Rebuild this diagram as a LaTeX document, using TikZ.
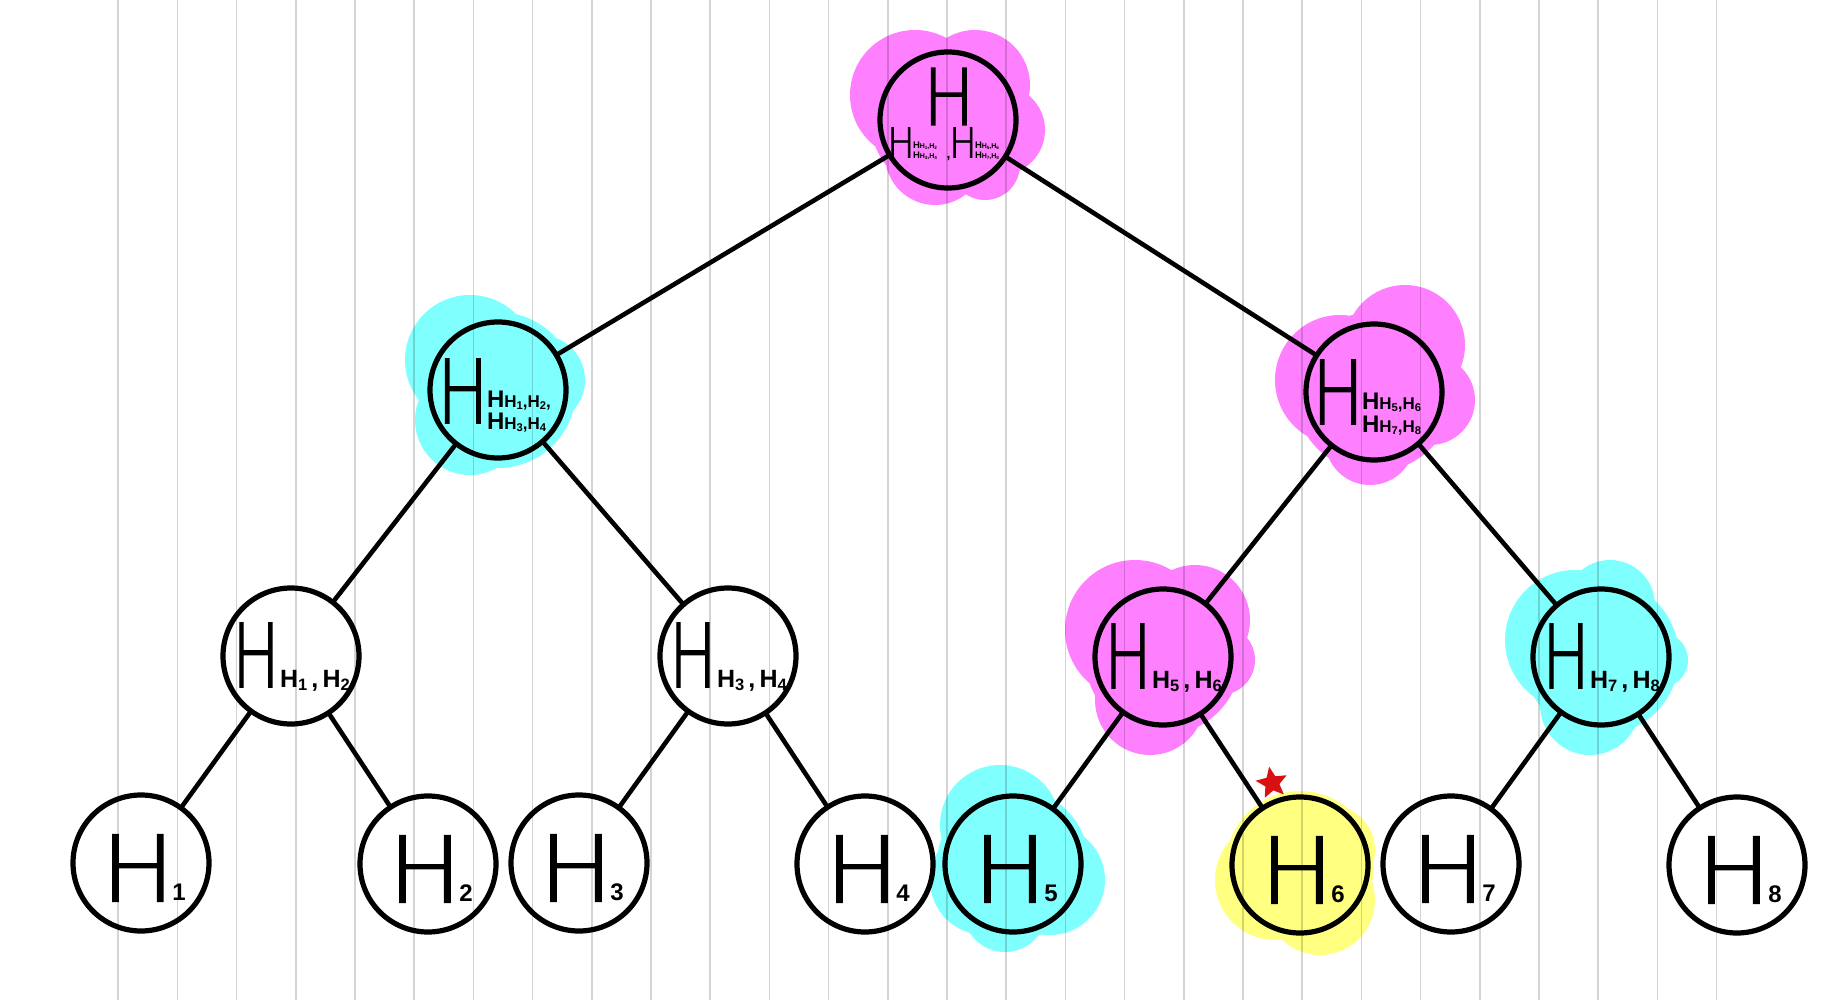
\documentclass[tikz,border=0pt]{standalone}
\usepackage{fontspec}
\usepackage{graphicx}
\setmainfont{Liberation Sans}
\newfontfamily\thinfont[FakeBold=2]{DejaVuSans-ExtraLight.ttf}
\usetikzlibrary{shapes.geometric,calc}
\definecolor{mag}{HTML}{FF80FF}
\definecolor{cyn}{HTML}{80FFFF}
\definecolor{yel}{HTML}{FFFF80}
\definecolor{starred}{HTML}{D91010}
\newcommand{\bigH}[2]{\scalebox{#2}[1]{\fontsize{#1}{#1}\thinfont\hbox to 0.58em{\hss H\hss}}}
\newcommand{\sbd}[1]{\raisebox{-0.12em}{\scalebox{0.66}{#1}}}
\newcommand{\subline}[5]{{\fontsize{#1}{#1}\selectfont\bfseries H}{\fontsize{#2}{#2}\selectfont\bfseries H\sbd{#3},H\sbd{#4}#5}}
\newcommand{\pairtxt}[3]{{\fontsize{#1}{#1}\selectfont\bfseries H\sbd{#2}\,,\,H\sbd{#3}}}
\newcommand{\digtxt}[1]{{\fontsize{24}{24}\selectfont\bfseries #1}}
\begin{document}
\begin{tikzpicture}[x=1pt,y=-1pt,
  tnode/.style={circle, draw=black, line width=5.2pt, minimum size=136pt, inner sep=0pt},
  txt/.style={inner sep=0pt, outer sep=0pt},
  edge/.style={line width=4.6pt, line cap=round},
  gridline/.style={black, opacity=0.17, line width=1.5pt}]
\useasboundingbox (0,0) rectangle (1824,1000);
\fill[white] (0,0) rectangle (1824,1000);
% blobs
\fill[mag] (948,118) circle[radius=78pt] (915,95) circle[radius=65pt] (975,85) circle[radius=55pt]
  (1000,130) circle[radius=45pt] (935,155) circle[radius=50pt] (985,165) circle[radius=35pt];
\fill[cyn] (498,390) circle[radius=78pt] (470,360) circle[radius=65pt] (470,420) circle[radius=55pt]
  (540,380) circle[radius=45pt];
\fill[mag] (1374,392) circle[radius=80pt] (1405,345) circle[radius=60pt] (1340,380) circle[radius=65pt]
  (1370,440) circle[radius=45pt] (1430,400) circle[radius=45pt];
\fill[mag] (1163,657) circle[radius=78pt] (1135,630) circle[radius=70pt] (1195,620) circle[radius=55pt]
  (1220,660) circle[radius=35pt] (1150,700) circle[radius=55pt];
\fill[cyn] (1601,657) circle[radius=78pt] (1575,640) circle[radius=70pt] (1610,605) circle[radius=45pt]
  (1660,660) circle[radius=28pt] (1590,705) circle[radius=50pt];
\fill[cyn] (1013,864) circle[radius=76pt] (1000,825) circle[radius=60pt] (985,880) circle[radius=55pt]
  (1050,880) circle[radius=55pt] (1005,910) circle[radius=42pt];
\fill[yel] (1300,865) circle[radius=74pt] (1275,880) circle[radius=60pt] (1320,900) circle[radius=55pt]
  (1330,850) circle[radius=45pt];
% grid
\foreach \k in {-14,...,13} \draw[gridline] ({947+59.2*\k},0) -- ({947+59.2*\k},1000);
% nodes
\node[tnode] (r) at (948,120) {};
\node[tnode] (l1) at (498,390) {};
\node[tnode] (l2) at (1374,392) {};
\node[tnode] (m1) at (291,656) {};
\node[tnode] (m2) at (728,656) {};
\node[tnode] (m3) at (1163,657) {};
\node[tnode] (m4) at (1601,657) {};
\node[tnode] (n1) at (141,863) {};
\node[tnode] (n2) at (428,864) {};
\node[tnode] (n3) at (579,863) {};
\node[tnode] (n4) at (865,864) {};
\node[tnode] (n5) at (1013,864) {};
\node[tnode] (n6) at (1300,865) {};
\node[tnode] (n7) at (1451,864) {};
\node[tnode] (n8) at (1737,865) {};
% edges
\draw[edge] (r) -- (l1);
\draw[edge] (r) -- (l2);
\draw[edge] (l1) -- (m1);
\draw[edge] (l1) -- (m2);
\draw[edge] (l2) -- (m3);
\draw[edge] (l2) -- (m4);
\draw[edge] (m1) -- (n1);
\draw[edge] (m1) -- (n2);
\draw[edge] (m2) -- (n3);
\draw[edge] (m2) -- (n4);
\draw[edge] (m3) -- (n5);
\draw[edge] (m3) -- (n6);
\draw[edge] (m4) -- (n7);
\draw[edge] (m4) -- (n8);
% star
\node[star, star points=5, star point ratio=2.2, fill=starred, minimum size=33pt, inner sep=0pt, rotate=10] (st) at (1272,783) {};
% leaf texts
\foreach \n/\d in {n1/1,n2/2,n3/3,n4/4,n5/5,n6/6,n7/7,n8/8}{
  \node[txt] (H\n) at ($(\n)+(-3,5)$) {\bigH{91}{1.08}};
  \node[txt] (D\n) at ($(\n)+(38,29)$) {\digtxt{\d}};
}
% level 3 texts
\foreach \m/\a/\b in {m1/1/2,m2/3/4,m3/5/6,m4/7/8}{
  \node[txt] (H\m) at ($(\m)+(-35,-1)$) {\bigH{88}{0.72}};
  \node[txt, anchor=base west] (S\m) at ($(\m)+(-11,31)$) {\pairtxt{25}{\a}{\b}};
}
% level 2 texts
\node[txt] (Hl1) at ($(l1)+(-35,1)$) {\bigH{88}{0.78}};
\node[txt, anchor=base west] (Al1) at ($(l1)+(-11,17)$) {\subline{24}{17}{1}{2}{,}};
\node[txt, anchor=base west] (Bl1) at ($(l1)+(-11,39)$) {\subline{24}{17}{3}{4}{}};
\node[txt] (Hl2) at ($(l2)+(-36,0)$) {\bigH{88}{0.78}};
\node[txt, anchor=base west] (Al2) at ($(l2)+(-12,17)$) {\subline{24}{17}{5}{6}{}};
\node[txt, anchor=base west] (Bl2) at ($(l2)+(-12,40)$) {\subline{24}{17}{7}{8}{}};
% root texts
\node[txt] (rH) at (949,96.5) {\bigH{78}{0.88}};
\node[txt] (rHa) at (901,142.5) {\bigH{41}{0.88}};
\node[txt, anchor=base west] (rA1) at (913,149) {\subline{9.5}{7}{1}{2}{}};
\node[txt, anchor=base west] (rA2) at (913,158.5) {\subline{9.5}{7}{3}{4}{}};
\node[txt, anchor=base] (rc) at (948.5,158.5) {\fontsize{14}{14}\selectfont\bfseries ,};
\node[txt] (rHb) at (963,142.5) {\bigH{41}{0.88}};
\node[txt, anchor=base west] (rB1) at (975,149) {\subline{9.5}{7}{5}{6}{}};
\node[txt, anchor=base west] (rB2) at (975,158.5) {\subline{9.5}{7}{7}{8}{}};
\end{tikzpicture}
\end{document}
